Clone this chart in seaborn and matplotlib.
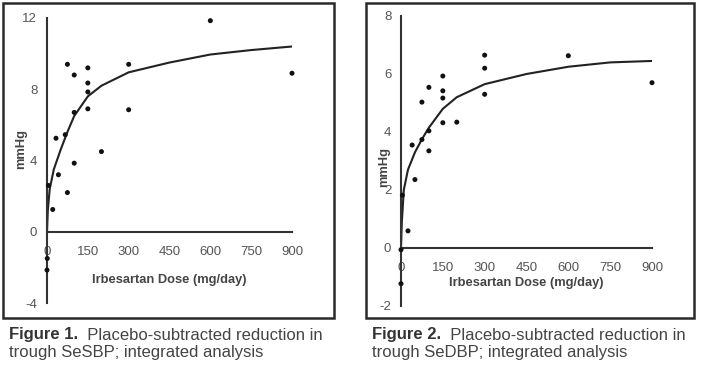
import matplotlib
matplotlib.use('Agg')
import matplotlib.pyplot as plt
from matplotlib.patches import Rectangle
import seaborn as sns
import pandas as pd

# Figure 1 - trough SeSBP, observed points
sbp_dose = [75, 150, 100, 150, 150, 150, 100, 300, 300, 33, 67, 200,
            100, 42, 75, 21, 5, 1, 0, 600, 900]
sbp_val = [9.4, 9.2, 8.8, 8.35, 7.85, 6.9, 6.7, 9.4, 6.85, 5.25, 5.45, 4.5,
           3.85, 3.2, 2.2, 1.25, 2.6, -1.5, -2.15, 11.85, 8.9]

# Figure 2 - trough SeDBP, observed points
dbp_dose = [300, 300, 300, 150, 150, 150, 150, 200, 100, 75, 100, 75,
            40, 100, 50, 5, 25, 0, 0, 600, 900]
dbp_val = [6.65, 6.2, 5.3, 5.93, 5.42, 5.17, 4.32, 4.34, 5.54, 5.03, 4.04, 3.74,
           3.55, 3.35, 2.36, 1.82, 0.59, -0.06, -1.23, 6.63, 5.7]

# fitted curves
curve_dose = [0, 3, 10, 25, 50, 75, 100, 150, 200, 300, 450, 600, 750, 900]
sbp_curve = [0, 1.2, 2.4, 3.5, 4.6, 5.6, 6.5, 7.6, 8.2, 8.95, 9.5, 9.95, 10.2, 10.4]
dbp_curve = [0, 0.9, 2.0, 2.7, 3.3, 3.75, 4.15, 4.8, 5.2, 5.65, 6.0, 6.25, 6.4, 6.45]

xticks = [0, 150, 300, 450, 600, 750, 900]
sbp_yticks = [-4, 0, 4, 8, 12]
dbp_yticks = [-2, 0, 2, 4, 6, 8]

sns.set_style('white')
plt.rcParams['font.family'] = ['Liberation Sans', 'DejaVu Sans']
plt.rcParams['axes.unicode_minus'] = False

fig = plt.figure(figsize=(7.02, 3.66), dpi=100)

# frames round each panel
for x0, x1 in [(3, 334), (366, 694)]:
    fig.patches.append(Rectangle((x0 / 702, 48 / 366), (x1 - x0) / 702, 315 / 366,
                                 transform=fig.transFigure, fill=False,
                                 lw=1.8, ec='#2a2a2a'))


def panel(rect, dose, val, cdose, cval, yticks, ylab_pos):
    ax = fig.add_axes(rect)
    df_pts = pd.DataFrame({'dose': dose, 'val': val})
    df_fit = pd.DataFrame({'dose': cdose, 'val': cval})
    sns.lineplot(data=df_fit, x='dose', y='val', ax=ax, color='#222222', lw=1.5)
    sns.scatterplot(data=df_pts, x='dose', y='val', ax=ax, color='#111111',
                    s=13, edgecolor='none', clip_on=False, zorder=3)
    ax.set_xlim(0, 900)
    ax.set_ylim(yticks[0], yticks[-1])
    ax.set_xticks(xticks)
    ax.set_yticks(yticks)
    ax.spines['right'].set_visible(False)
    ax.spines['top'].set_visible(False)
    ax.spines['bottom'].set_position(('data', 0))
    for sp in ('left', 'bottom'):
        ax.spines[sp].set_color('#333333')
        ax.spines[sp].set_linewidth(1.5)
    ax.tick_params(axis='both', direction='in', length=4, width=1.3,
                   color='#333333', labelsize=9.5, labelcolor='#555555')
    ax.tick_params(axis='x', pad=10)
    ax.tick_params(axis='y', pad=7)
    ax.set_xlabel('Irbesartan Dose (mg/day)', fontsize=9.3, fontweight='bold',
                  color='#444444', va='center')
    ax.xaxis.set_label_coords(0.5, 0.08)
    ax.set_ylabel('mmHg', fontsize=9.3, fontweight='bold', color='#444444',
                  va='center')
    ax.yaxis.set_label_coords(*ylab_pos)
    return ax


panel([47 / 702, 63 / 366, 245 / 702, 285 / 366], sbp_dose, sbp_val,
      curve_dose, sbp_curve, sbp_yticks, (-0.105, 0.54))
panel([401 / 702, 60 / 366, 251 / 702, 290 / 366], dbp_dose, dbp_val,
      curve_dose, dbp_curve, dbp_yticks, (-0.068, 0.48))

# captions below the frames: bold figure number, then regular text
captions = [(9, 'Figure 1.', 'trough SeSBP; integrated analysis'),
            (372, 'Figure 2.', 'trough SeDBP; integrated analysis')]
for x, head, line2 in captions:
    t = fig.text(x / 702, 1 - 335 / 366, head, fontsize=12, fontweight='bold',
                 color='#333333', va='center')
    plt.annotate('  Placebo-subtracted reduction in', xy=(1, 0), xycoords=t,
                 va='bottom', fontsize=12, color='#444444',
                 annotation_clip=False)
    fig.text(x / 702, 1 - 353 / 366, line2, fontsize=12, color='#444444',
             va='center')

fig.savefig('out.png', dpi=100)
